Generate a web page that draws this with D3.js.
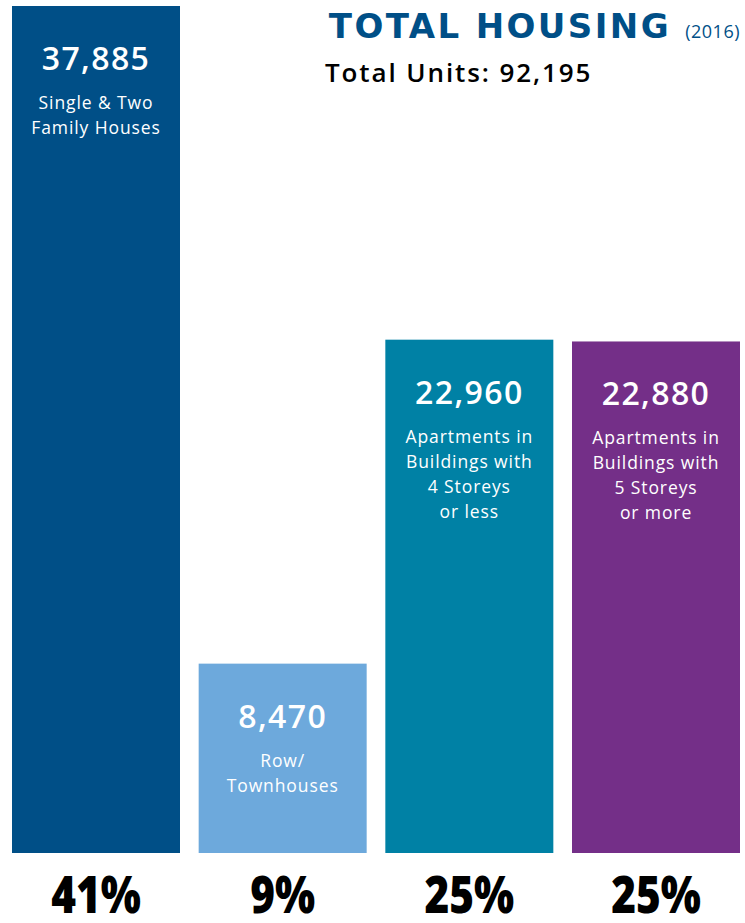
<!DOCTYPE html>
<html lang="en">
<head>
	<meta charset="UTF-8">
	<title>Total Housing</title>
	<style>
		body { margin: 0; background: #fff; }
		svg { display: block; font-family: "Open Sans", "Lato", sans-serif; }
	</style>
</head>
<body>
	<script src="https://cdn.jsdelivr.net/npm/d3@7/dist/d3.min.js"></script>

	<script type="text/javascript">

		// data
		var categories = ["single", "row", "apt4", "apt5"];
		var units = [37885, 8470, 22960, 22880];
		var percents = ["41%", "9%", "25%", "25%"];
		var labels = [
			["Single & Two", "Family Houses"],
			["Row/", "Townhouses"],
			["Apartments in", "Buildings with", "4 Storeys", "or less"],
			["Apartments in", "Buildings with", "5 Storeys", "or more"]
		];
		var colors = ["#004f87", "#6da9dc", "#0081a5", "#742f88"];

		var width = 745;
		var height = 923;
		var barBottom = 853;

		var svg = d3.select("body")
					.append("svg")
					.attr("width", width)
					.attr("height", height);

		// scales
		var x = d3.scaleBand()
				  .domain(categories)
				  .range([12, 740])
				  .paddingInner(0.1)
				  .paddingOuter(0);

		var y = d3.scaleLinear()
				  .domain([0, 37885])
				  .range([barBottom, 6]);

		var bars = svg.selectAll("g.bar")
					  .data(categories)
					  .enter()
					  .append("g")
					  .attr("class", "bar");

		bars.append("rect")
			.attr("x", function(d) { return x(d); })
			.attr("y", function(d, i) { return y(units[i]); })
			.attr("width", x.bandwidth())
			.attr("height", function(d, i) { return barBottom - y(units[i]); })
			.attr("fill", function(d, i) { return colors[i]; });

		// value on the bar
		bars.append("text")
			.attr("x", function(d) { return x(d) + x.bandwidth() / 2; })
			.attr("y", function(d, i) { return y(units[i]) + 64; })
			.attr("text-anchor", "middle")
			.attr("fill", "#fff")
			.attr("font-size", "32px")
			.attr("font-weight", 600)
			.attr("letter-spacing", "1.4px")
			.text(function(d, i) { return d3.format(",")(units[i]); });

		// label lines
		bars.each(function(d, i) {
			var g = d3.select(this);
			var cx = x(d) + x.bandwidth() / 2;
			var top = y(units[i]);
			g.selectAll("text.lbl")
			 .data(labels[i])
			 .enter()
			 .append("text")
			 .attr("class", "lbl")
			 .attr("x", cx)
			 .attr("y", function(t, j) { return top + 103 + j * 25; })
			 .attr("text-anchor", "middle")
			 .attr("fill", "#fff")
			 .attr("font-size", "17.5px")
			 .attr("letter-spacing", "0.9px")
			 .text(function(t) { return t; });
		});

		// percentages under bars (narrowed glyphs)
		bars.append("text")
			.attr("transform", function(d) {
				return "translate(" + (x(d) + x.bandwidth() / 2) + ",913) scale(0.83,1)";
			})
			.attr("text-anchor", "middle")
			.attr("fill", "#000")
			.attr("font-size", "51px")
			.attr("font-weight", 800)
			.text(function(d, i) { return percents[i]; });

		// title
		var title = svg.append("text")
					   .attr("x", 740)
					   .attr("y", 38)
					   .attr("text-anchor", "end");
		title.append("tspan")
			 .attr("fill", "#004f87")
			 .attr("font-family", "'DejaVu Sans', sans-serif")
			 .attr("font-size", "34px")
			 .attr("font-weight", 700)
			 .attr("letter-spacing", "2.4px")
			 .text("TOTAL HOUSING ");
		title.append("tspan")
			 .attr("fill", "#004f87")
			 .attr("font-size", "18px")
			 .attr("letter-spacing", "0.5px")
			 .text("(2016)");

		svg.append("text")
		   .attr("x", 325)
		   .attr("y", 82)
		   .attr("fill", "#000")
		   .attr("font-size", "26px")
		   .attr("font-weight", 600)
		   .attr("letter-spacing", "1.9px")
		   .text("Total Units: 92,195");

	</script>
</body>
</html>
